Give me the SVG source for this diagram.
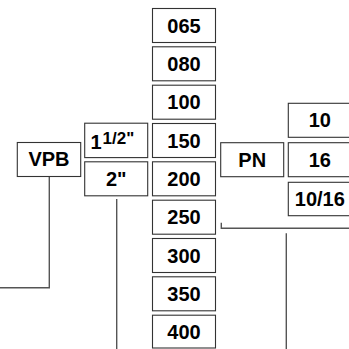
<svg xmlns="http://www.w3.org/2000/svg" width="349" height="349" viewBox="0 0 349 349">
<style>
rect{fill:#fff;stroke:#333;stroke-width:1.1}
text{font-family:"Liberation Sans",Arial,sans-serif;font-weight:bold;font-size:20px;fill:#000;text-anchor:middle}
.sup{font-size:17px;text-anchor:start}
.st{text-anchor:start}
.c{fill:none;stroke:#555;stroke-width:1.4}
</style>
<rect x="0" y="0" width="349" height="349" style="fill:#fff;stroke:none"/>
<g id="connectors">
<path class="c" d="M49.3,177 V287.7 H0"/>
<path class="c" d="M116.7,199 V349"/>
<path class="c" d="M221.3,222.7 V228.3 H349"/>
<path class="c" d="M286.3,233.3 V349"/>
</g>
<g id="n065"><rect x="152.5" y="8.5" width="63" height="34"/><text x="184" y="32.5">065</text></g>
<g id="n080"><rect x="152.5" y="46.8" width="63" height="34"/><text x="184" y="70.8">080</text></g>
<g id="n100"><rect x="152.5" y="85.2" width="63" height="34"/><text x="184" y="109.2">100</text></g>
<g id="n150"><rect x="152.5" y="123.5" width="63" height="34"/><text x="184" y="147.5">150</text></g>
<g id="n200"><rect x="152.5" y="161.8" width="63" height="34"/><text x="184" y="185.8">200</text></g>
<g id="n250"><rect x="152.5" y="200.2" width="63" height="34"/><text x="184" y="224.2">250</text></g>
<g id="n300"><rect x="152.5" y="238.5" width="63" height="34"/><text x="184" y="262.5">300</text></g>
<g id="n350"><rect x="152.5" y="276.8" width="63" height="34"/><text x="184" y="300.8">350</text></g>
<g id="n400"><rect x="152.5" y="315.2" width="63" height="32.8"/><text x="184" y="339">400</text></g>
<g id="n112"><rect x="84.7" y="123.2" width="63" height="34.4"/><text class="st" x="90.5" y="149.3">1</text><text class="sup" x="102.5" y="144.3">1/2"</text></g>
<g id="n2"><rect x="84.7" y="161.8" width="63" height="34"/><text x="116.2" y="185.8">2"</text></g>
<g id="vpb"><rect x="17.3" y="142.5" width="63.4" height="34"/><text x="49" y="166.3">VPB</text></g>
<g id="pn"><rect x="220.7" y="142.7" width="63" height="34"/><text x="252.2" y="166.5">PN</text></g>
<g id="n10"><rect x="288.3" y="103.3" width="63" height="34"/><text x="319.8" y="127.2">10</text></g>
<g id="n16"><rect x="288.3" y="142.7" width="63" height="34"/><text x="319.8" y="166.5">16</text></g>
<g id="n1016"><rect x="288.3" y="182.3" width="63" height="33.4"/><text x="319.8" y="206">10/16</text></g>
</svg>
